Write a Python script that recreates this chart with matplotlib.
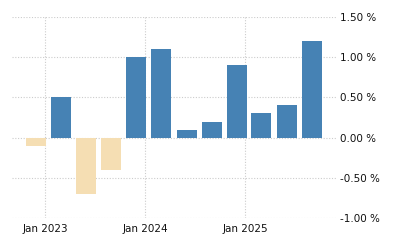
import matplotlib
matplotlib.use("Agg")
import matplotlib.pyplot as plt
import matplotlib.dates as mdates
import numpy as np
import datetime as dt

dates = ["2022-12-01", "2023-03-01", "2023-06-01", "2023-09-01",
         "2023-12-01", "2024-03-01", "2024-06-01", "2024-09-01",
         "2024-12-01", "2025-03-01", "2025-06-01", "2025-09-01"]
values = [-0.1, 0.5, -0.7, -0.4, 1.0, 1.1, 0.1, 0.2, 0.9, 0.3, 0.4, 1.2]
yticks = [-1.0, -0.5, 0.0, 0.5, 1.0, 1.5]
xtick_dates = ["2023-01-01", "2024-01-01", "2025-01-01"]
xtick_labels = ["Jan 2023", "Jan 2024", "Jan 2025"]

x = [mdates.date2num(dt.datetime.fromisoformat(d)) for d in dates]
colors = ["#4682B4" if v >= 0 else "#F5DEB3" for v in values]

fig = plt.figure(figsize=(4, 2.5), dpi=100)
ax = fig.add_axes([0.03, 0.128, 0.8125, 0.804])
ax.bar(x, values, width=73, color=colors, zorder=3)

ax.set_ylim(-1.0, 1.5)
ax.set_xlim(mdates.date2num(dt.datetime(2022, 9, 3)), mdates.date2num(dt.datetime(2025, 12, 2)))
ax.set_yticks(yticks)
ax.set_yticklabels([f"{t:.2f} %" for t in yticks])
ax.yaxis.tick_right()
xt = [mdates.date2num(dt.datetime.fromisoformat(d)) for d in xtick_dates]
ax.set_xticks(xt)
ax.set_xticklabels(xtick_labels)
ax.tick_params(axis="both", length=0, labelsize=7.5, colors="#111111")
ax.tick_params(axis="y", pad=2)
ax.tick_params(axis="x", pad=4)
for s in ax.spines.values():
    s.set_visible(False)
ax.grid(True, color="#cccccc", linestyle=(0, (1, 1.5)), linewidth=0.8, zorder=0)
fig.savefig("out.png", dpi=100)
